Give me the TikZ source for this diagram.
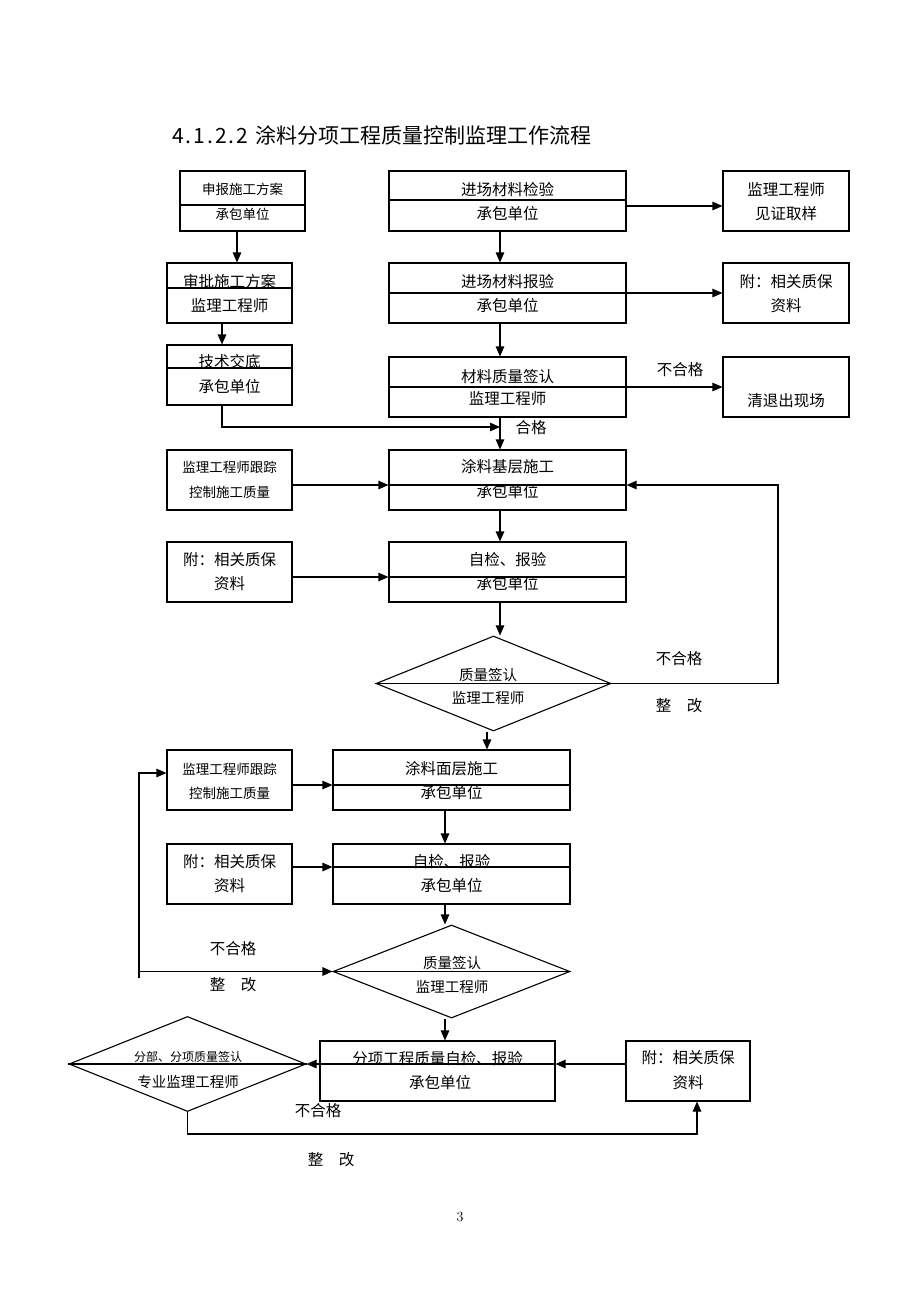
\documentclass[tikz,border=0pt]{standalone}
\usepackage{fontspec}
\newfontfamily\cjk{Noto Sans CJK SC}
\usetikzlibrary{shapes.geometric,arrows.meta}
\begin{document}
\begin{tikzpicture}[x=1pt,y=-1pt,
  box/.style={draw,line width=1.1pt,rectangle,inner sep=0pt,minimum height=60pt},
  wbox/.style={box,minimum width=125pt},
  mbox/.style={box,minimum width=237pt},
  dia/.style={draw,line width=1.1pt,diamond,inner sep=0pt,minimum width=#1},
  t/.style={font=\cjk\fontsize{15.5}{16}\selectfont,inner sep=0pt},
  ts/.style={font=\cjk\fontsize{13.5}{14}\selectfont,inner sep=0pt},
  tm/.style={font=\cjk\fontsize{14.5}{15}\selectfont,inner sep=0pt},
  tx/.style={font=\cjk\fontsize{12}{13}\selectfont,inner sep=0pt},
  ln/.style={line width=1.1pt},
  arr/.style={line width=1.1pt,-{Triangle[length=10pt,width=8.5pt]}}]
\fill[white] (0,0) rectangle (920,1302);
\useasboundingbox (0,0) rectangle (920,1302);

% title
\node[font=\cjk\fontsize{21}{23}\selectfont,inner sep=0pt,anchor=west] (title) at (172,135)
  {\makebox[76pt][s]{4\hfill.\hfill1\hfill.\hfill2\hfill.\hfill2}\hspace{7pt}涂料分项工程质量控制监理工作流程};

% row 1
\node[wbox] (A) at (242.5,201) {};
\node[ts] (A1) at (242.5,189) {申报施工方案};
\node[ts] (A2) at (242.5,214) {承包单位};
\draw[ln] (A.west |- 0,205) -- (A.east |- 0,205);

\node[mbox] (B) at (507.5,201) {};
\node[t] (B1) at (507.5,190) {进场材料检验};
\node[t] (B2) at (507.5,214) {承包单位};
\draw[ln] (B.west |- 0,200) -- (B.east |- 0,200);

\node[wbox,minimum width=126pt] (C) at (786,201) {};
\node[t] (C1) at (786,190) {监理工程师};
\node[t] (C2) at (786,214) {见证取样};
\draw[arr] (B.east |- 0,206) -- (C.west |- 0,206);

% row 2
\node[wbox] (D) at (229.5,293) {};
\node[t] (D1) at (229.5,282) {审批施工方案};
\node[t] (D2) at (229.5,306) {监理工程师};
\draw[ln] (D.west |- 0,288) -- (D.east |- 0,288);
\draw[arr] (A.south -| 237,0) -- (D.north -| 237,0);

\node[mbox] (E) at (507.5,293) {};
\node[t] (E1) at (507.5,282) {进场材料报验};
\node[t] (E2) at (507.5,306) {承包单位};
\draw[arr] (B.south -| 500,0) -- (E.north -| 500,0);

\node[wbox,minimum width=126pt] (F) at (786,293) {};
\node[t] (F1) at (786,282) {附：相关质保};
\node[t] (F2) at (786,306) {资料};
\draw[arr] (E.west |- 0,293) -- (F.west |- 0,293);

% row 3
\node[wbox] (G) at (229.5,375) {};
\node[t] (G1) at (229.5,362) {技术交底};
\node[t] (G2) at (229.5,387) {承包单位};
\draw[ln] (G.west |- 0,368) -- (G.east |- 0,368);
\draw[arr] (D.south -| 222,0) -- (G.north -| 222,0);

\node[mbox] (H) at (507.5,387) {};
\node[t] (H1) at (507.5,377) {材料质量签认};
\node[t] (H2) at (507.5,399) {监理工程师};
\draw[arr] (E.south -| 500,0) -- (H.north -| 500,0);

\node[wbox,minimum width=126pt] (I) at (786,387) {};
\node[t] (I1) at (786,401) {清退出现场};
\draw[arr] (H.west |- 0,387) -- (I.west |- 0,387);
\node[t] (lb1) at (680,370) {不合格};

% row 4
\node[wbox] (K) at (229.5,480) {};
\node[ts] (K1) at (229.5,467) {监理工程师跟踪};
\node[ts] (K2) at (229.5,492) {控制施工质量};

\node[mbox] (J) at (507.5,480) {};
\node[t] (J1) at (507.5,467) {涂料基层施工};
\node[t] (J2) at (507.5,492) {承包单位};
\draw[arr] (K.east |- 0,485) -- (J.west |- 0,485);
\draw[ln] (J.west |- 0,485) -- (J.east |- 0,485);

\coordinate (m1) at (500,427);
\draw[arr] (G.south -| 222,0) |- (m1);
\draw[arr] (H.south -| 500,0) -- (J.north -| 500,0);
\node[t] (lb2) at (531,428) {合格};

% row 5
\node[wbox] (L) at (229.5,572) {};
\node[t] (L1) at (229.5,560) {附：相关质保};
\node[t] (L2) at (229.5,584) {资料};

\node[mbox] (M) at (507.5,572) {};
\node[t] (M1) at (507.5,560) {自检、报验};
\node[t] (M2) at (507.5,584) {承包单位};
\draw[arr] (L.east |- 0,577) -- (M.west |- 0,577);
\draw[ln] (M.west |- 0,577) -- (M.east |- 0,577);
\draw[arr] (J.south -| 500,0) -- (M.north -| 500,0);

% diamond N
\node[dia=235pt,minimum height=95pt] (N) at (493.5,683.5) {};
\node[tm] (N1) at (488,675) {质量签认};
\node[tm] (N2) at (488,698) {监理工程师};
\draw[ln] (N.west) -- (N.east);
\draw[arr] (M.south -| 500,0) -- (N.north -| 500,0);
\coordinate (rc) at (778,485);
\draw[arr] (N.east) -| (rc) -- (J.east |- rc);
\node[t] (lb3) at (679,659) {不合格};
\node[t] (lb4) at (679,706) {整\hspace{1em}改};

% row 6
\node[wbox] (P) at (229.5,780) {};
\node[ts] (P1) at (229.5,769) {监理工程师跟踪};
\node[ts] (P2) at (229.5,793) {控制施工质量};

\node[mbox] (O) at (451.5,780) {};
\node[t] (O1) at (451.5,769) {涂料面层施工};
\node[t] (O2) at (451.5,793) {承包单位};
\draw[arr] (P.east |- 0,785) -- (O.west |- 0,785);
\draw[ln] (O.west |- 0,785) -- (O.east |- 0,785);
\draw[arr] (N.south -| 487,0) -- (O.north -| 487,0);

% row 7
\node[wbox] (Q) at (229.5,874) {};
\node[t] (Q1) at (229.5,862) {附：相关质保};
\node[t] (Q2) at (229.5,886) {资料};

\node[mbox] (R) at (451.5,874) {};
\node[t] (R1) at (451.5,862) {自检、报验};
\node[t] (R2) at (451.5,886) {承包单位};
\draw[arr] (Q.east |- 0,867) -- (R.west |- 0,867);
\draw[ln] (R.west |- 0,867) -- (R.east |- 0,867);
\draw[arr] (O.south -| 445,0) -- (R.north -| 445,0);

% diamond S
\node[dia=237pt,minimum height=93pt] (S) at (451.5,971.5) {};
\node[tm] (S1) at (452,963) {质量签认};
\node[tm] (S2) at (452,987) {监理工程师};
\draw[ln] (S.west) -- (S.east);
\draw[arr] (R.south -| 445,0) -- (S.north -| 445,0);
\coordinate (lb) at (139,978);
\draw[arr] (lb) |- (P.west |- 0,773);
\draw[arr] (lb |- S.west) -- (S.west);
\node[t] (lb5) at (233,949) {不合格};
\node[t] (lb6) at (233,985) {整\hspace{1em}改};

% row 8
\node[box,minimum width=235pt] (T) at (437.5,1071) {};
\node[t] (T1) at (437.5,1059) {分项工程质量自检、报验};
\node[t] (T2) at (440,1083) {承包单位};
\draw[arr] (S.south -| 445,0) -- (T.north -| 445,0);

\node[box,minimum width=124pt] (U) at (688,1071) {};
\node[t] (U1) at (688,1058) {附：相关质保};
\node[t] (U2) at (688,1083) {资料};

\node[dia=237pt,minimum height=95pt] (V) at (187.5,1064) {};
\node[tx] (V1) at (188,1057) {分部、分项质量签认};
\node[tm] (V2) at (188,1082) {专业监理工程师};
\draw[ln] (V.west) -- (V.east);
\draw[arr] (U.west |- 0,1064) -- (T.east |- 0,1064);
\draw[arr] (T.east |- 0,1064) -- (V.east);
\draw[arr] (V.south) -- (V.south |- 0,1134) -| (U.south -| 697,0);
\node[t] (lb7) at (318,1111) {不合格};
\node[t] (lb8) at (331,1160) {整\hspace{1em}改};

% page number
\node[font=\fontsize{14}{15}\selectfont,inner sep=0pt] (pg) at (460,1217) {3};
\end{tikzpicture}
\end{document}
